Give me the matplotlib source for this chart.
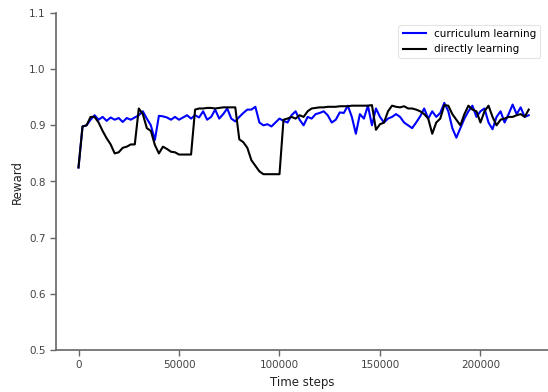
import matplotlib
matplotlib.use("Agg")
import matplotlib.pyplot as plt
import numpy as np

step_interval = 2000

curriculum = [
    0.825, 0.898, 0.900, 0.910, 0.918, 0.910, 0.915, 0.908, 0.914, 0.910,
    0.913, 0.906, 0.913, 0.910, 0.914, 0.918, 0.925, 0.912, 0.900, 0.874,
    0.917, 0.916, 0.914, 0.910, 0.915, 0.910, 0.914, 0.918, 0.912, 0.918,
    0.914, 0.925, 0.910, 0.915, 0.928, 0.912, 0.920, 0.930, 0.912, 0.907,
    0.915, 0.922, 0.928, 0.928, 0.933, 0.905, 0.900, 0.902, 0.898, 0.905,
    0.912,
    0.908, 0.905, 0.918, 0.925, 0.910, 0.900, 0.915, 0.912, 0.920, 0.922,
    0.925, 0.918, 0.905, 0.910, 0.923, 0.922, 0.935, 0.915, 0.885, 0.920,
    0.912, 0.935, 0.900, 0.930, 0.915, 0.905, 0.912, 0.915, 0.920, 0.915,
    0.905, 0.900, 0.895, 0.905, 0.916, 0.930, 0.912, 0.925, 0.915, 0.922,
    0.940, 0.925, 0.895, 0.878, 0.895, 0.912, 0.925, 0.935, 0.915, 0.925,
    0.930, 0.905, 0.893, 0.915, 0.925, 0.905, 0.920, 0.937, 0.920, 0.932,
    0.915, 0.918,
]

directly = [
    0.825, 0.898, 0.900, 0.915, 0.915, 0.905, 0.890, 0.877, 0.866, 0.850,
    0.852, 0.860, 0.862, 0.866, 0.866, 0.930, 0.920, 0.895, 0.890, 0.865,
    0.850, 0.862, 0.858, 0.853, 0.852, 0.848, 0.848, 0.848, 0.848, 0.928,
    0.930, 0.930, 0.931, 0.931, 0.930, 0.931, 0.932, 0.932, 0.932, 0.932,
    0.875, 0.870, 0.860, 0.838, 0.828, 0.818, 0.813, 0.813, 0.813, 0.813,
    0.813, 0.910, 0.912, 0.915, 0.912, 0.918, 0.915, 0.925, 0.930, 0.931,
    0.932, 0.932, 0.933, 0.933, 0.933, 0.934, 0.934, 0.934, 0.935, 0.935,
    0.935, 0.935, 0.935, 0.936, 0.892, 0.902, 0.905, 0.925, 0.935, 0.933,
    0.932, 0.934, 0.930, 0.930, 0.928, 0.925, 0.920, 0.912, 0.885, 0.905,
    0.912, 0.936, 0.935, 0.920, 0.910, 0.900, 0.920, 0.935, 0.928, 0.925,
    0.905, 0.925, 0.935, 0.915, 0.900, 0.910, 0.912, 0.915, 0.915, 0.918,
    0.920, 0.915, 0.928,
]

xticks = [0, 50000, 100000, 150000, 200000]
yticks = [0.5, 0.6, 0.7, 0.8, 0.9, 1.0, 1.1]

steps_c = np.arange(len(curriculum)) * step_interval
steps_d = np.arange(len(directly)) * step_interval

fig = plt.figure(figsize=(5.48, 3.92), dpi=100)
ax = fig.add_axes([56/548, 42/392, 492/548, 337/392])

ax.plot(steps_c, curriculum, color="#0000ff", lw=1.5, label="curriculum learning")
ax.plot(steps_d, directly, color="black", lw=1.5, label="directly learning")

ax.set_xlim(-11200, 233600)
ax.set_ylim(0.5, 1.1)
ax.set_xticks(xticks)
ax.set_xticklabels([str(t) for t in xticks])
ax.set_yticks(yticks)
ax.set_yticklabels([f"{t:.1f}" for t in yticks])

for s in ["top", "right"]:
    ax.spines[s].set_visible(False)
for s in ["left", "bottom"]:
    ax.spines[s].set_color("#666666")
    ax.spines[s].set_linewidth(1.2)
ax.tick_params(colors="#444444", labelsize=7.5, length=4, width=1, color="#666666")

ax.set_xlabel("Time steps", fontsize=8.5, color="#222222")
ax.set_ylabel("Reward", fontsize=8.5, color="#222222")

leg = ax.legend(loc="upper right", fontsize=7.5, frameon=True, handlelength=2.2,
                bbox_to_anchor=(0.995, 0.98))
leg.get_frame().set_edgecolor("#dddddd")
leg.get_frame().set_linewidth(0.8)

fig.savefig("out.png", dpi=100)
